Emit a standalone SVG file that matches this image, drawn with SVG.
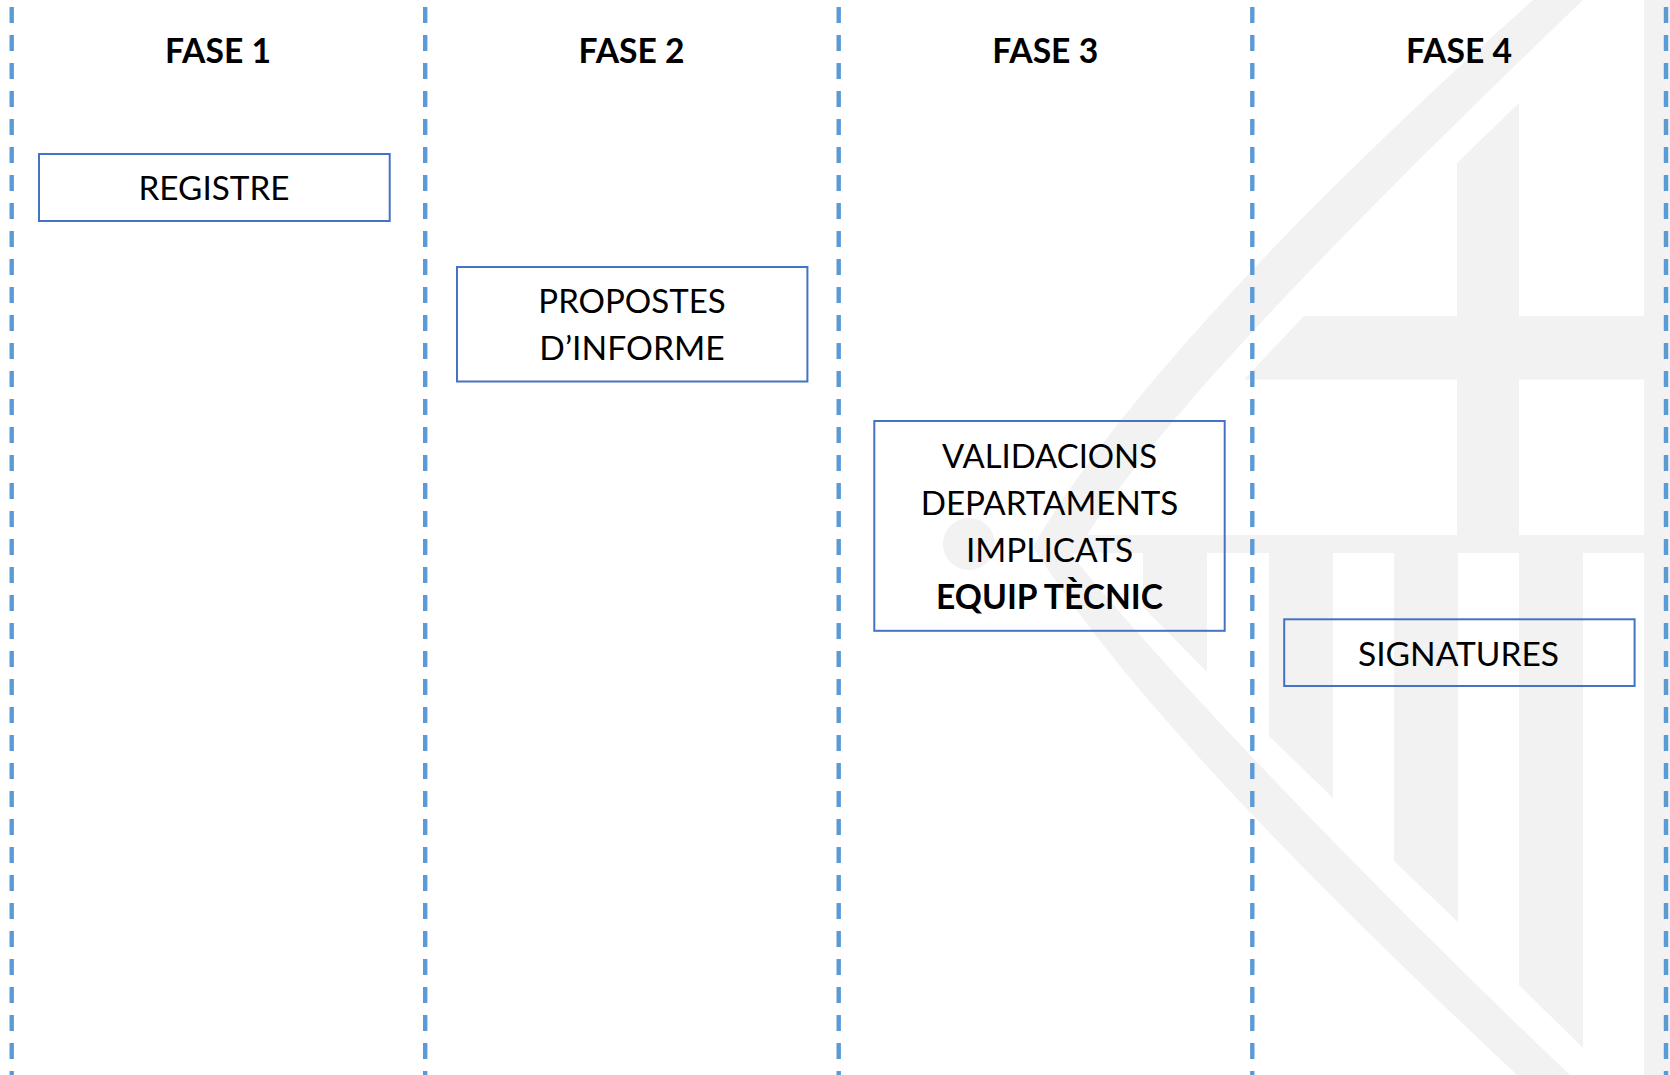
<svg xmlns="http://www.w3.org/2000/svg" width="1670" height="1075" viewBox="0 0 1670 1075">
  <style>
    .wm { fill: #f2f2f2; stroke: none; }
    .lane { stroke: #5b9bd5; stroke-width: 4.4; stroke-dasharray: 16 12; fill: none; }
    .box { fill: none; stroke: #4472c4; stroke-width: 2; }
    text { font-family: "Lato", "Liberation Sans", sans-serif; font-size: 33.5px; fill: #000; text-anchor: middle; }
    .b { font-weight: 700; }
  </style>
  <rect width="1670" height="1075" fill="#fff"/>
  <g id="watermark">
    <path class="wm" d="M1533,0 C1320,190 1120,395 1033,547 C1130,700 1320,890 1517,1075 L1570,1075 C1360,875 1160,665 1070,553 L1644,553 1644,535 1087,535 C1170,405 1370,205 1583,0 Z"/>
    <path class="wm" d="M1304,316 L1457,316 1457,163 1519,103 1519,316 1644,316 1644,379.5 1519,379.5 1519,535 1457,535 1457,379.5 1244,379.5 Z"/>
    <rect class="wm" x="1644" y="0" width="26" height="1075"/>
    <circle class="wm" cx="969" cy="544" r="26"/>
    <path class="wm" d="M1143,553 L1207,553 1207,672 1143,607 Z"/>
    <path class="wm" d="M1269,553 L1333,553 1333,798 1269,736 Z"/>
    <path class="wm" d="M1394,553 L1458,553 1458,922 1394,861 Z"/>
    <path class="wm" d="M1519,553 L1583,553 1583,1048 1519,985 Z"/>
  </g>
  <g id="connectors">
    <line class="lane" x1="11.7" y1="7" x2="11.7" y2="1075"/>
    <line class="lane" x1="425.2" y1="7" x2="425.2" y2="1075"/>
    <line class="lane" x1="838.7" y1="7" x2="838.7" y2="1075"/>
    <line class="lane" x1="1252.3" y1="7" x2="1252.3" y2="1075"/>
    <line class="lane" x1="1666" y1="7" x2="1666" y2="1075"/>
  </g>
  <g id="fase1"><text class="b" x="218" y="62.7" textLength="106" lengthAdjust="spacingAndGlyphs">FASE 1</text></g>
  <g id="fase2"><text class="b" x="631.6" y="62.7" textLength="106" lengthAdjust="spacingAndGlyphs">FASE 2</text></g>
  <g id="fase3"><text class="b" x="1045.2" y="62.7" textLength="106" lengthAdjust="spacingAndGlyphs">FASE 3</text></g>
  <g id="fase4"><text class="b" x="1459" y="62.7" textLength="106" lengthAdjust="spacingAndGlyphs">FASE 4</text></g>
  <g id="registre">
    <rect class="box" x="39" y="154" width="350.7" height="67"/>
    <text x="214" y="200" textLength="151" lengthAdjust="spacingAndGlyphs">REGISTRE</text>
  </g>
  <g id="propostes">
    <rect class="box" x="457" y="267" width="350.4" height="114.5"/>
    <text x="632" y="312.7" textLength="187.4" lengthAdjust="spacingAndGlyphs">PROPOSTES</text>
    <text x="632" y="360" textLength="185.3" lengthAdjust="spacingAndGlyphs">D’INFORME</text>
  </g>
  <g id="validacions">
    <rect class="box" x="874.3" y="421" width="350.4" height="209.8"/>
    <text x="1049.5" y="468" textLength="215" lengthAdjust="spacingAndGlyphs">VALIDACIONS</text>
    <text x="1049.5" y="515" textLength="257.7" lengthAdjust="spacingAndGlyphs">DEPARTAMENTS</text>
    <text x="1049.5" y="561.7" textLength="167.2" lengthAdjust="spacingAndGlyphs">IMPLICATS</text>
    <text class="b" x="1049.5" y="609" textLength="226.8" lengthAdjust="spacingAndGlyphs">EQUIP TÈCNIC</text>
  </g>
  <g id="signatures">
    <rect class="box" x="1284.2" y="619.3" width="350.4" height="66.7"/>
    <text x="1458.5" y="665.9" textLength="201" lengthAdjust="spacingAndGlyphs">SIGNATURES</text>
  </g>
</svg>
